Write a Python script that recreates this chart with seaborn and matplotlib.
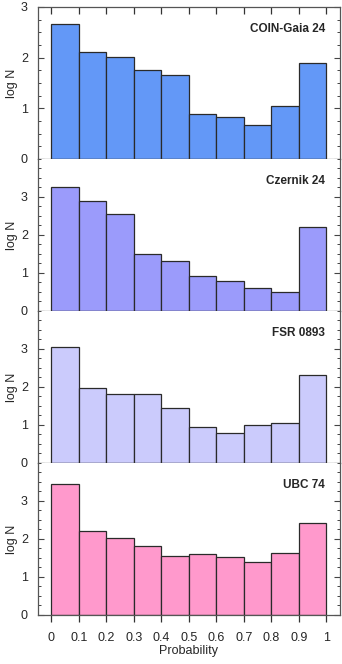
import numpy as np
import pandas as pd
import matplotlib
matplotlib.use('Agg')
import matplotlib.pyplot as plt
from matplotlib.ticker import MultipleLocator
import seaborn as sns

# 데이터: 확률 구간별 log N
bin_edges = [0, 0.1, 0.2, 0.3, 0.4, 0.5, 0.6, 0.7, 0.8, 0.9, 1.0]
names = ['COIN-Gaia 24', 'Czernik 24', 'FSR 0893', 'UBC 74']
coin_gaia_24 = [2.67, 2.12, 2.01, 1.75, 1.65, 0.88, 0.83, 0.68, 1.05, 1.90]
czernik_24 = [3.27, 2.89, 2.56, 1.51, 1.32, 0.91, 0.79, 0.60, 0.49, 2.21]
fsr_0893 = [3.04, 1.97, 1.82, 1.81, 1.46, 0.96, 0.78, 1.00, 1.05, 2.31]
ubc_74 = [3.45, 2.20, 2.02, 1.81, 1.54, 1.61, 1.53, 1.39, 1.63, 2.41]
colors = ['#6398F7', '#9B9BFB', '#CBCBFC', '#FF99CC']
ymax = [3, 4, 4, 4]

series = [coin_gaia_24, czernik_24, fsr_0893, ubc_74]

sns.set_style('ticks')
plt.rcParams['font.family'] = ['Liberation Sans', 'DejaVu Sans']

fig, axes = plt.subplots(4, 1, figsize=(3.42, 6.64), dpi=100, sharex=True)
fig.subplots_adjust(left=0.11, right=0.994, top=0.9895, bottom=0.0738, hspace=0)

centers = [(a + b) / 2 for a, b in zip(bin_edges[:-1], bin_edges[1:])]
fs = 9

for i, ax in enumerate(axes):
    df = pd.DataFrame({'p': centers, 'logN': series[i]})
    sns.histplot(data=df, x='p', weights='logN', bins=bin_edges, ax=ax,
                 color=colors[i], alpha=1, edgecolor='#2a2a2a', linewidth=0.9)
    ax.set_xlim(-0.05, 1.05)
    ax.set_ylim(0, ymax[i])
    ax.set_yticks([0, 1, 2, 3])
    ax.yaxis.set_minor_locator(MultipleLocator(0.25))
    ax.tick_params(axis='y', which='major', direction='in', length=4, width=0.8,
                   left=True, right=True, labelsize=fs, pad=7, color='#444444')
    ax.tick_params(axis='y', which='minor', direction='in', length=2.5, width=0.7,
                   left=True, right=True, color='#444444')
    ax.tick_params(axis='x', which='major', direction='out', length=5, width=0.9,
                   labelsize=fs, bottom=True, color='#333333')
    ax.set_ylabel('log N', fontsize=fs, labelpad=2)
    ax.set_xlabel('')
    for s in ['left', 'right', 'bottom']:
        ax.spines[s].set_color('#555555')
        ax.spines[s].set_linewidth(0.9)
    if i == 0:
        ax.spines['top'].set_color('#555555')
        ax.spines['top'].set_linewidth(0.9)
        sec = ax.secondary_xaxis('top')
        sec.set_xticks(bin_edges)
        sec.tick_params(direction='in', length=5, width=0.9, labeltop=False, color='#333333')
        sec.spines['top'].set_visible(False)
    else:
        ax.spines['top'].set_visible(False)
    ax.text(0.95, 0.855, names[i], transform=ax.transAxes, ha='right', va='center',
            fontsize=8.5, fontweight='bold')

axes[-1].set_xticks(bin_edges)
axes[-1].set_xticklabels(['0', '0.1', '0.2', '0.3', '0.4', '0.5', '0.6', '0.7', '0.8', '0.9', '1'])
axes[-1].tick_params(axis='x', pad=7)
axes[-1].set_xlabel('Probability', fontsize=fs, labelpad=1)

fig.savefig('out.png', dpi=100)
